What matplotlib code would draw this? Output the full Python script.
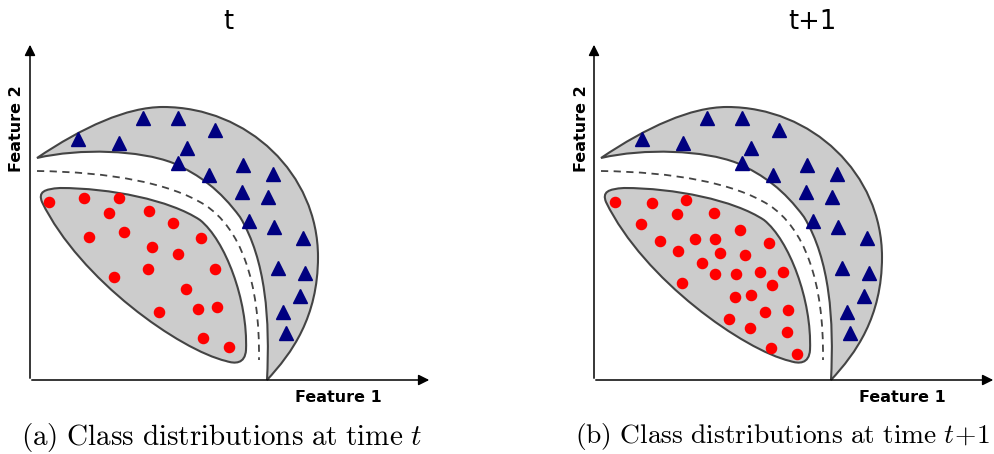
import matplotlib.pyplot as plt
import numpy as np
from matplotlib.path import Path
from matplotlib.patches import PathPatch

plt.rcParams['mathtext.fontset'] = 'cm'

# panel-local coordinates (origin = axes corner, units ~ pixels)
tri_x = [113, 148, 185, 48, 89, 157, 148, 213, 243, 179, 212, 238, 219, 244, 273, 248, 275, 270, 253, 256]
tri_y = [262, 262, 250, 241, 237, 232, 217, 215, 206, 205, 188, 183, 159, 153, 142, 112, 107, 84, 68, 47]

red_a_x = [19, 54, 89, 79, 119, 143, 94, 59, 171, 122, 148, 118, 185, 84, 156, 129, 168, 187, 173, 199]
red_a_y = [178, 182, 182, 167, 169, 157, 148, 143, 142, 133, 126, 111, 111, 103, 91, 68, 71, 73, 42, 33]

red_b_x = [21, 58, 92, 83, 120, 47, 146, 66, 101, 121, 175, 84, 126, 151, 108, 121, 142, 166, 189, 178,
           88, 141, 157, 171, 194, 135, 156, 193, 177, 203]
red_b_y = [178, 177, 180, 166, 167, 156, 150, 139, 141, 141, 137, 129, 127, 125, 117, 106, 106, 108, 108, 95,
           97, 83, 85, 68, 70, 61, 52, 48, 32, 26]

titles = ['t', 't+1']
captions = [r'$\mathrm{(a)\ Class\ distributions\ at\ time}\ t$',
            r'$\mathrm{(b)\ Class\ distributions\ at\ time}\ t\!+\!1$']

M, C = Path.MOVETO, Path.CURVE4


def curve(start, segs, close=False):
    verts = [start]
    codes = [M]
    for s in segs:
        verts += s
        codes += [C, C, C]
    if close:
        verts.append(start)
        codes.append(Path.CLOSEPOLY)
    return Path(verts, codes)


outer = curve((7, 222), [
    [(53, 253), (97, 273), (133, 273)],
    [(218, 273), (288, 206), (288, 123)],
    [(288, 63), (262, 27), (237, 0)],
    [(240, 60), (236, 120), (210, 163)],
    [(190, 190), (170, 205), (143, 217)],
    [(110, 230), (50, 232), (7, 222)],
], close=True)

blob = curve((12, 178), [
    [(8, 188), (14, 191), (30, 192)],
    [(80, 192), (140, 180), (170, 160)],
    [(195, 140), (218, 80), (216, 30)],
    [(215, 16), (205, 16), (196, 19)],
    [(150, 30), (50, 100), (12, 178)],
], close=True)

dash = curve((7, 209), [
    [(80, 208), (140, 197), (175, 175)],
    [(210, 152), (230, 100), (229, 20)],
])

fig = plt.figure(figsize=(9.95, 4.54), dpi=100)

panels = [(0, -30, 198, red_a_x, red_a_y, 192, 21),
          (545, -49, 218, red_b_x, red_b_y, 189, 19.8)]

for i, (px0, xl, tx, rx, ry, cx, cfs) in enumerate(panels):
    ax = fig.add_axes([px0 / 995, 0, 450 / 995, 1])
    ax.set_xlim(xl, xl + 450)
    ax.set_ylim(-74, 380)
    ax.axis('off')

    ax.add_patch(PathPatch(outer, facecolor='#cccccc', edgecolor='#444444', lw=1.5))
    ax.add_patch(PathPatch(blob, facecolor='#cccccc', edgecolor='#444444', lw=1.5))
    ax.add_patch(PathPatch(dash, facecolor='none', edgecolor='#444444', lw=1.3,
                           linestyle=(0, (4, 3))))

    ax.plot(tri_x, tri_y, '^', color='#000080', ms=9.5, mec='#000080', ls='none')
    ax.plot(rx, ry, 'o', color='#ff0000', ms=7.3, ls='none')

    ax.annotate('', xy=(402, 0), xytext=(-1, 0),
                arrowprops=dict(arrowstyle='-|>', color='k', lw=1.1, mutation_scale=16),
                annotation_clip=False)
    ax.annotate('', xy=(0, 338), xytext=(0, -1),
                arrowprops=dict(arrowstyle='-|>', color='k', lw=1.1, mutation_scale=16),
                annotation_clip=False)

    ax.text(-13, 251, 'Feature 2', rotation=90, ha='center', va='center',
            fontsize=11.5, fontweight='bold')
    ax.text(308, -17, 'Feature 1', ha='center', va='center',
            fontsize=11.5, fontweight='bold')
    ax.text(tx, 358, titles[i], ha='center', va='center', fontsize=18.5)
    ax.text(cx, -57, captions[i], ha='center', va='center', fontsize=cfs)

fig.savefig('out.png', dpi=100)
